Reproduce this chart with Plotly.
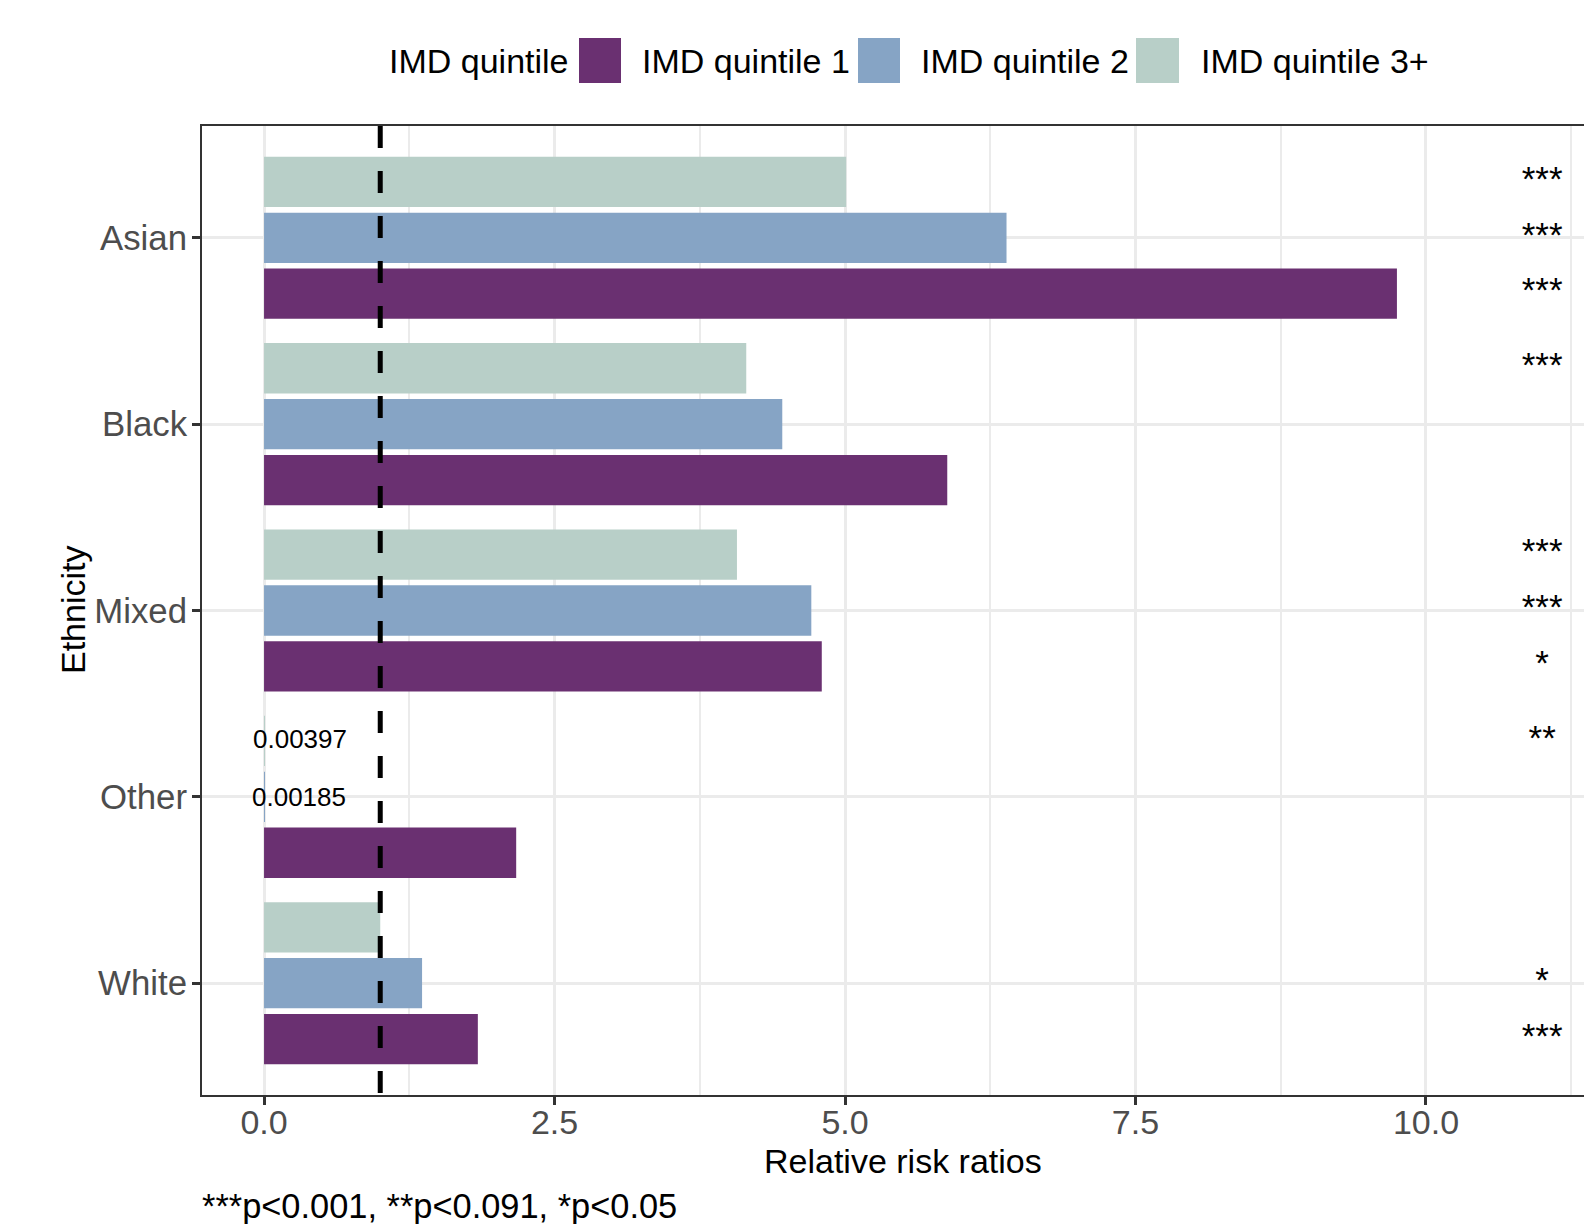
import plotly.graph_objects as go

# ---- data ----
ethnicity = ["Asian", "Black", "Mixed", "Other", "White"]
series_names = ["IMD quintile 1", "IMD quintile 2", "IMD quintile 3+"]
q1 = [9.75, 5.88, 4.80, 2.17, 1.84]
q2 = [6.39, 4.46, 4.71, 0.00185, 1.36]
q3 = [5.01, 4.15, 4.07, 0.00397, 1.00]
sig_q1 = ["***", "", "*", "", "***"]
sig_q2 = ["***", "", "***", "", "*"]
sig_q3 = ["***", "***", "***", "**", ""]
x_ticks = [0, 2.5, 5, 7.5, 10]
x_ticktext = ["0.0", "2.5", "5.0", "7.5", "10.0"]
x_minor = [1.25, 3.75, 6.25, 8.75, 11.25]
ref_line = 1
star_x = 11
caption = "***p<0.001, **p<0.091, *p<0.05"
x_title = "Relative risk ratios"
y_title = "Ethnicity"

colors = {"IMD quintile 1": "#6A3071", "IMD quintile 2": "#86A4C5", "IMD quintile 3+": "#B8CFC8"}

W, H = 1584, 1224
ML, MR, MT, MB = 202, 0, 126, 129
FONT = "Liberation Sans, Arial, sans-serif"

ypos = list(range(len(ethnicity)))

fig = go.Figure()
# top-to-bottom inside each group: 3+, 2, 1 (y axis reversed -> first trace on top)
series = [("IMD quintile 3+", q3, sig_q3, -0.3),
          ("IMD quintile 2", q2, sig_q2, 0.0),
          ("IMD quintile 1", q1, sig_q1, 0.3)]
for name, vals, sig, off in series:
    fig.add_trace(go.Bar(
        x=vals, y=ypos, orientation="h", name=name,
        marker=dict(color=colors[name], line=dict(width=0)),
        showlegend=False, hoverinfo="x+name",
    ))
for name, vals, sig, off in series:
    fig.add_trace(go.Scatter(
        x=[star_x] * len(sig), y=[p + off for p in ypos], text=sig,
        mode="text", textposition="middle center",
        textfont=dict(family=FONT, size=35, color="black"),
        showlegend=False, hoverinfo="skip", cliponaxis=False,
    ))
    # small value labels
    for p, v in zip(ypos, vals):
        if v < 0.01:
            fig.add_annotation(x=v, y=p + off, xref="x", yref="y", text=f"{v:g}",
                               showarrow=False, xanchor="left", yanchor="middle",
                               xshift=-14, yshift=2 if off < 0 else 0,
                               font=dict(family=FONT, size=26, color="black"))

# reference dashed line
fig.add_shape(type="line", xref="x", yref="paper", x0=ref_line, x1=ref_line, y0=1, y1=0,
              line=dict(color="black", width=5, dash="22px,23px"), layer="above")

pw = W - ML - MR
ph = H - MT - MB
def px(x):
    return (x - ML) / pw
def py(y):
    return (H - MB - y) / ph

# manual legend
fig.add_annotation(x=px(571), y=py(61), xref="paper", yref="paper", text="IMD quintile",
                   showarrow=False, xanchor="right", yanchor="middle",
                   font=dict(family=FONT, size=34, color="black"))
sw = [(579, 621, 640), (858, 900, 919), (1136, 1179, 1199)]
for (x0, x1, tx), nm in zip(sw, series_names):
    fig.add_shape(type="rect", xref="paper", yref="paper", x0=px(x0), x1=px(x1),
                  y0=py(83), y1=py(38), fillcolor=colors[nm], line=dict(width=0))
    fig.add_annotation(x=px(tx), y=py(61), xref="paper", yref="paper", text=nm,
                       showarrow=False, xanchor="left", yanchor="middle",
                       font=dict(family=FONT, size=34, color="black"))

# x axis title (centred on the full, partly cropped panel)
fig.add_annotation(x=px(903), y=py(1161), xref="paper", yref="paper", text=x_title,
                   showarrow=False, xanchor="center", yanchor="middle",
                   font=dict(family=FONT, size=34, color="black"))

# y axis title
fig.add_annotation(x=px(73), y=py(610), xref="paper", yref="paper", text=y_title,
                   showarrow=False, xanchor="center", yanchor="middle", textangle=-90,
                   font=dict(family=FONT, size=34, color="black"))

# caption
fig.add_annotation(x=0, y=py(1206), xref="paper", yref="paper", text=caption,
                   showarrow=False, xanchor="left", yanchor="middle", xshift=-2,
                   font=dict(family=FONT, size=34.4, color="black"))

fig.update_layout(
    width=W, height=H,
    margin=dict(l=ML, r=MR, t=MT, b=MB, pad=0),
    paper_bgcolor="white", plot_bgcolor="white",
    barmode="group", bargap=0.1, bargroupgap=0.1,
    font=dict(family=FONT, color="black"),
    showlegend=False,
    xaxis=dict(
        range=[-0.534, 11.36], tickvals=x_ticks, ticktext=x_ticktext,
        showgrid=True, gridcolor="#EBEBEB", gridwidth=3, zeroline=False,
        minor=dict(tickvals=x_minor, showgrid=True, gridcolor="#EBEBEB", gridwidth=2, ticks=""),
        showline=True, linecolor="#333333", linewidth=2, mirror=True,
        ticks="outside", ticklen=8, tickwidth=2.5, tickcolor="#333333",
        tickfont=dict(family=FONT, size=34, color="#4D4D4D"),
        ticklabelstandoff=-12,
    ),
    yaxis=dict(
        range=[4.6, -0.6], tickvals=ypos, ticktext=ethnicity,
        showgrid=True, gridcolor="#EBEBEB", gridwidth=3, zeroline=False,
        showline=True, linecolor="#333333", linewidth=2, mirror=False,
        ticks="outside", ticklen=8, tickwidth=2.5, tickcolor="#333333",
        tickfont=dict(family=FONT, size=34.8, color="#4D4D4D"),
        ticklabelstandoff=-2,
    ),
)

fig.write_html("out.html", config={"displayModeBar": False},
               post_script="document.body.style.margin='0';document.body.style.overflow='hidden';")
